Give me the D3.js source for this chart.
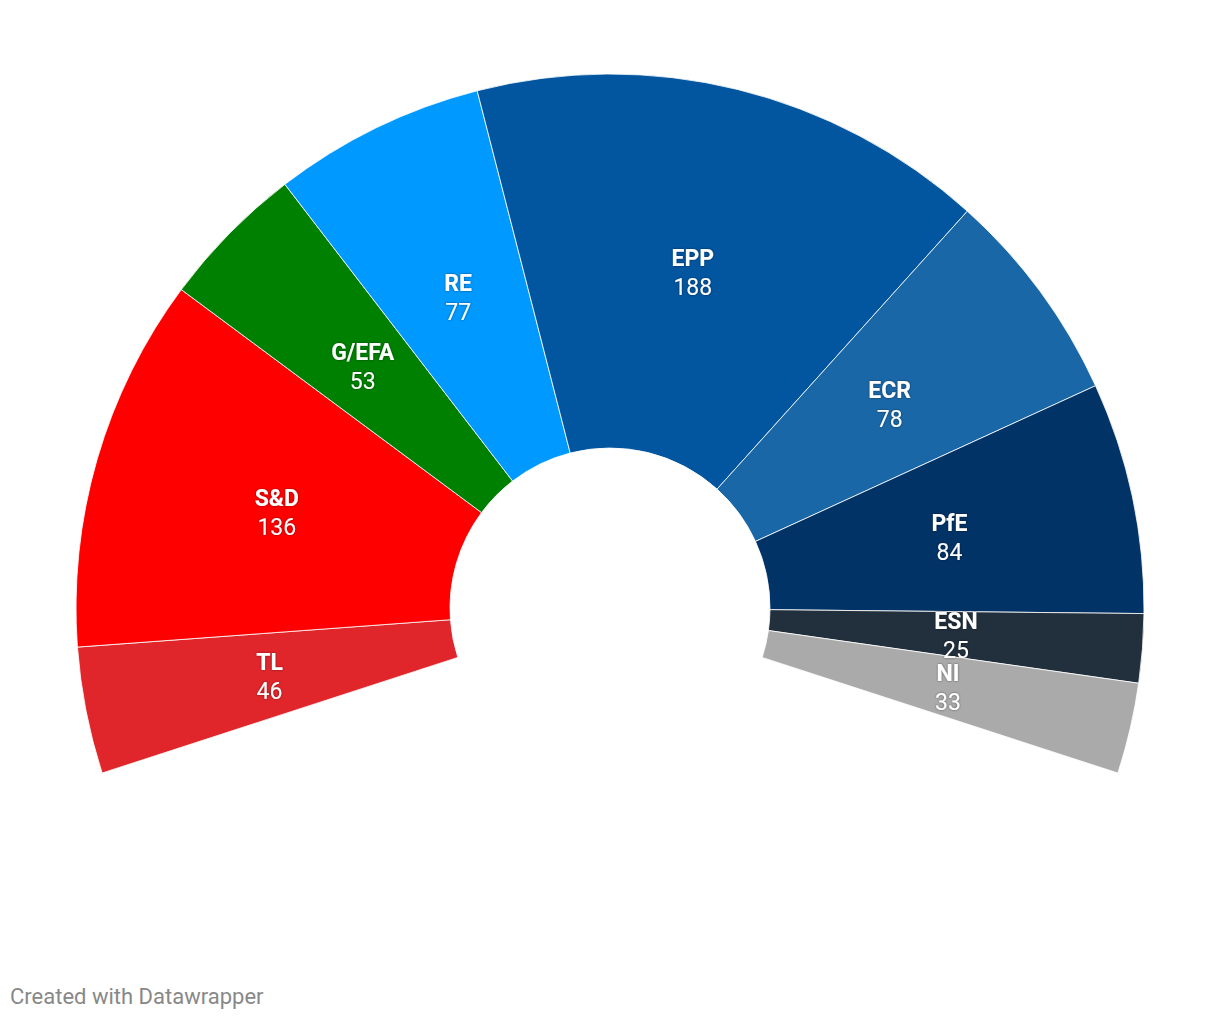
<!DOCTYPE html>
<html><head><meta charset="utf-8">
<script src="https://cdn.jsdelivr.net/npm/d3@7"></script>
<style>
body{margin:0;background:#fff;}
svg text{font-family:Roboto,"Noto Sans",sans-serif;}
</style></head>
<body>
<svg id="c" width="1220" height="1020"></svg>
<script>
const parties = ["TL","S&D","G/EFA","RE","EPP","ECR","PfE","ESN","NI"];
const seats = [46,136,53,77,188,78,84,25,33];
const colors = ["#e0262b","#ff0000","#008000","#0099ff","#02559f","#1a67a7","#023366","#222f3d","#aaaaaa"];

const svg = d3.select("#c");
const cx = 610, cy = 608, rIn = 160, rOut = 534;
const span = 108 * Math.PI / 180;
const data = parties.map((p,i)=>({party:p, seats:seats[i], color:colors[i]}));
const pie = d3.pie().value(d=>d.seats).sort(null).startAngle(-span).endAngle(span);
const arc = d3.arc().innerRadius(rIn).outerRadius(rOut);
const arcs = pie(data);
const defs = svg.append("defs");
const f = defs.append("filter").attr("id","sh").attr("x","-20%").attr("y","-20%").attr("width","140%").attr("height","140%");
f.append("feDropShadow").attr("dx",0).attr("dy",0).attr("stdDeviation",1.2).attr("flood-color","#000").attr("flood-opacity",0.5);

const g = svg.append("g").attr("transform",`translate(${cx},${cy})`);
g.selectAll("path").data(arcs).join("path")
  .attr("d",arc).attr("fill",d=>d.data.color)
  .attr("stroke","#fff").attr("stroke-width",0.8);

const lab = g.selectAll("g.l").data(arcs).join("g").attr("class","l")
  .attr("transform",d=>`translate(${arc.centroid(d)})`).attr("filter","url(#sh)");
lab.append("text").attr("text-anchor","middle").attr("y",-5)
  .attr("fill","#fff").attr("font-weight","700").attr("font-size",23)
  .text(d=>d.data.party);
lab.append("text").attr("text-anchor","middle").attr("y",24)
  .attr("fill","#fff").attr("font-size",23)
  .text(d=>d.data.seats);

svg.append("text").attr("x",10).attr("y",1004).attr("fill","#888")
  .attr("font-size",22).text("Created with Datawrapper");
</script>
</body></html>
